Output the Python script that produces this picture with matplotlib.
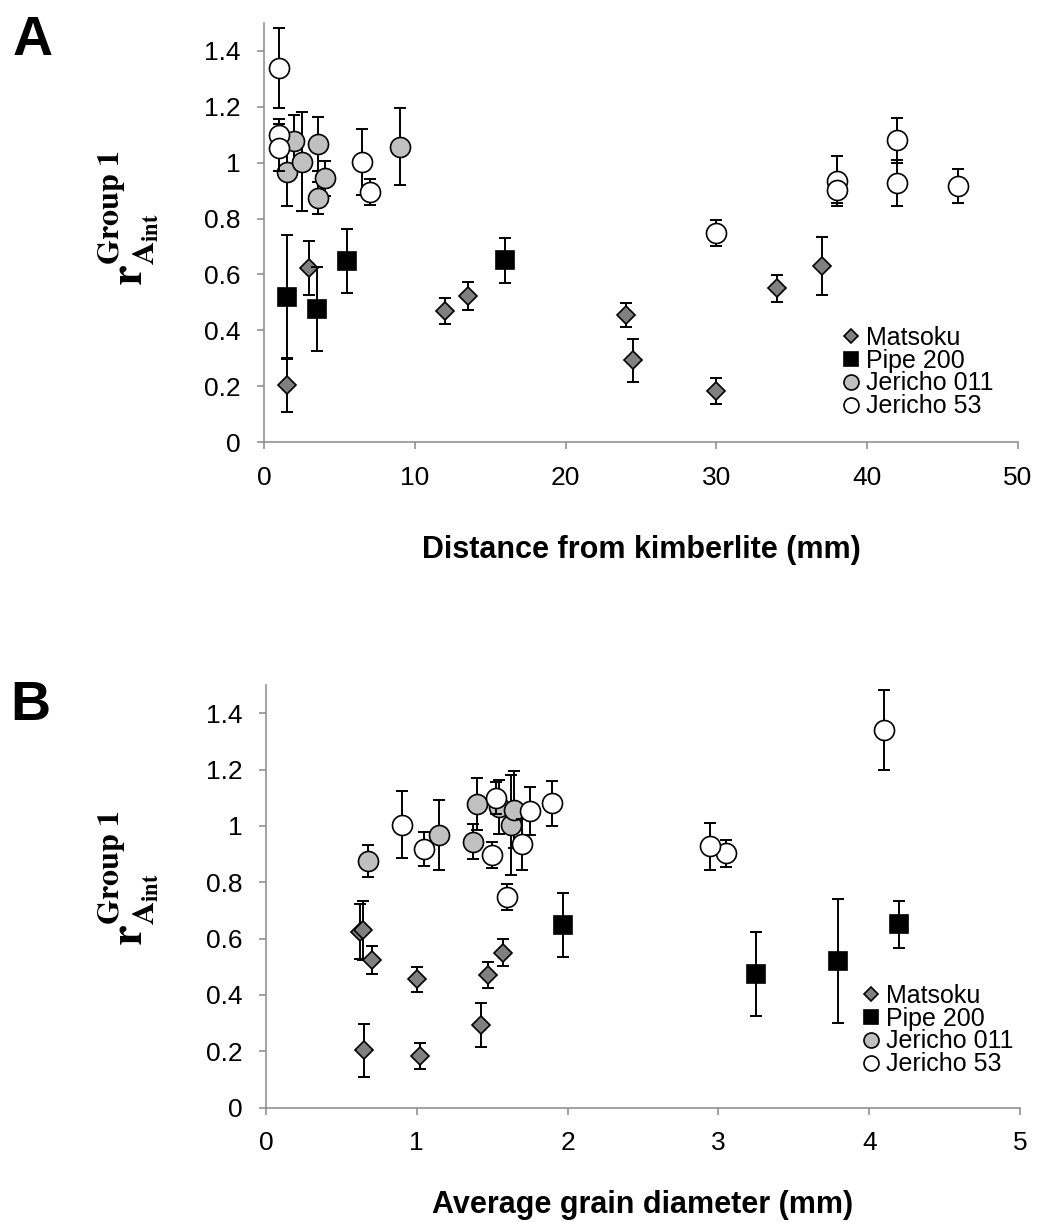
import matplotlib
matplotlib.use("Agg")
import matplotlib.pyplot as plt
from matplotlib.ticker import FuncFormatter, MultipleLocator

plt.rcParams["font.family"] = ["Liberation Sans", "DejaVu Sans"]
plt.rcParams["mathtext.fontset"] = "stix"

# Matsoku: distance from kimberlite (mm), ratio, error, average grain diameter (mm)
matsoku_dist = [1.5, 3.0, 12.0, 13.5, 24.0, 24.5, 30.0, 34.0, 37.0]
matsoku_r = [0.203, 0.624, 0.470, 0.523, 0.455, 0.292, 0.183, 0.550, 0.630]
matsoku_err = [0.095, 0.097, 0.047, 0.050, 0.043, 0.078, 0.047, 0.048, 0.105]
matsoku_diam = [0.650, 0.623, 1.474, 0.700, 0.999, 1.424, 1.021, 1.574, 0.645]

# Pipe 200
pipe_dist = [1.5, 3.5, 5.5, 16.0]
pipe_r = [0.520, 0.475, 0.648, 0.650]
pipe_err = [0.220, 0.150, 0.113, 0.082]
pipe_diam = [3.795, 3.247, 1.972, 4.198]

# Jericho 011
j011_dist = [1.5, 2.0, 2.5, 3.55, 3.55, 4.05, 9.0]
j011_r = [0.968, 1.079, 1.004, 1.067, 0.875, 0.944, 1.057]
j011_err = [0.123, 0.092, 0.177, 0.096, 0.057, 0.063, 0.137]
j011_diam = [1.147, 1.401, 1.623, 1.547, 0.674, 1.375, 1.645]

# Jericho 53
j53_dist = [1.0, 1.0, 1.0, 6.5, 7.0, 30.0, 38.0, 38.0, 42.0, 42.0, 46.0]
j53_r = [1.340, 1.100, 1.054, 1.004, 0.896, 0.749, 0.934, 0.902, 1.080, 0.928, 0.917]
j53_err = [0.143, 0.057, 0.085, 0.118, 0.046, 0.046, 0.090, 0.048, 0.080, 0.083, 0.060]
j53_diam = [4.098, 1.523, 1.751, 0.900, 1.497, 1.600, 1.700, 3.050, 1.899, 2.944, 1.048]

series = [
    ("Matsoku", "D", 9.2, "#808080", matsoku_dist, matsoku_diam, matsoku_r, matsoku_err),
    ("Pipe 200", "s", 13.0, "#000000", pipe_dist, pipe_diam, pipe_r, pipe_err),
    ("Jericho 011", "o", 14.4, "#c0c0c0", j011_dist, j011_diam, j011_r, j011_err),
    ("Jericho 53", "o", 14.4, "#ffffff", j53_dist, j53_diam, j53_r, j53_err),
]

axis_grey = "#898989"
ylab = r"$\mathbf{r}^{\mathbf{Group\ 1}}_{\mathbf{A}_{\mathbf{int}}}$"

W, H = 1038, 1222
fig = plt.figure(figsize=(W / 100, H / 100), dpi=100)


def px_axes(left, top, right, bottom):
    return fig.add_axes([left / W, 1 - bottom / H, (right - left) / W, (bottom - top) / H])


ax_a = px_axes(264, 23, 1018, 442)
ax_b = px_axes(266, 685, 1020, 1107.6)


def draw_panel(ax, use_diam, xmax, xstep, xlabel, xlab_y, leg_x, leg_top):
    handles = []
    for i, (name, mk, ms, fc, dist, diam, r, err) in enumerate(series):
        xs = diam if use_diam else dist
        z = 3 + 2 * i
        ax.errorbar(xs, r, yerr=err, fmt="none", ecolor="black",
                    elinewidth=1.4, capsize=4.3, capthick=1.4, zorder=z)
        (h,) = ax.plot(xs, r, linestyle="none", marker=mk, markersize=ms,
                       markerfacecolor=fc, markeredgecolor="black",
                       markeredgewidth=1.2, zorder=z + 0.5, label=name)
        handles.append(h)

    ax.set_xlim(0, xmax)
    ax.set_ylim(0, 1.5)
    ax.xaxis.set_major_locator(MultipleLocator(xstep))
    ax.set_yticks([0, 0.2, 0.4, 0.6, 0.8, 1.0, 1.2, 1.4])
    fmt = FuncFormatter(lambda v, p: f"{v:g}")
    ax.xaxis.set_major_formatter(fmt)
    ax.yaxis.set_major_formatter(fmt)

    for s in ["top", "right"]:
        ax.spines[s].set_visible(False)
    for s in ["left", "bottom"]:
        ax.spines[s].set_color(axis_grey)
        ax.spines[s].set_linewidth(1.1)
    ax.tick_params(direction="out", length=5, width=1.1, color=axis_grey,
                   labelsize=19, pad=12)

    ax.set_xlabel(xlabel, fontsize=22, fontweight="bold")
    ax.xaxis.set_label_coords(0.5, xlab_y)

    ax.legend(handles=handles, loc="upper left",
              bbox_to_anchor=(leg_x / W, 1 - leg_top / H),
              bbox_transform=fig.transFigure, frameon=False, fontsize=18,
              handlelength=0.75, handletextpad=0.2, labelspacing=-0.05,
              borderpad=0, borderaxespad=0, markerscale=0.75)


draw_panel(ax_a, False, 50, 10, "Distance from kimberlite (mm)", -0.222, 842, 326)
draw_panel(ax_b, True, 5, 1, "Average grain diameter (mm)", -0.195, 862, 984)

# y-axis labels and panel letters
fig.text(128 / W, 1 - 218 / H, ylab, rotation=90, ha="center", va="center", fontsize=33)
fig.text(128 / W, 1 - 878 / H, ylab, rotation=90, ha="center", va="center", fontsize=33)
fig.text(13 / W, 1 - 15 / H, "A", fontsize=40, fontweight="bold", ha="left", va="top")
fig.text(10 / W, 1 - 680 / H, "B", fontsize=40, fontweight="bold", ha="left", va="top")

fig.savefig("out.png", dpi=100)
